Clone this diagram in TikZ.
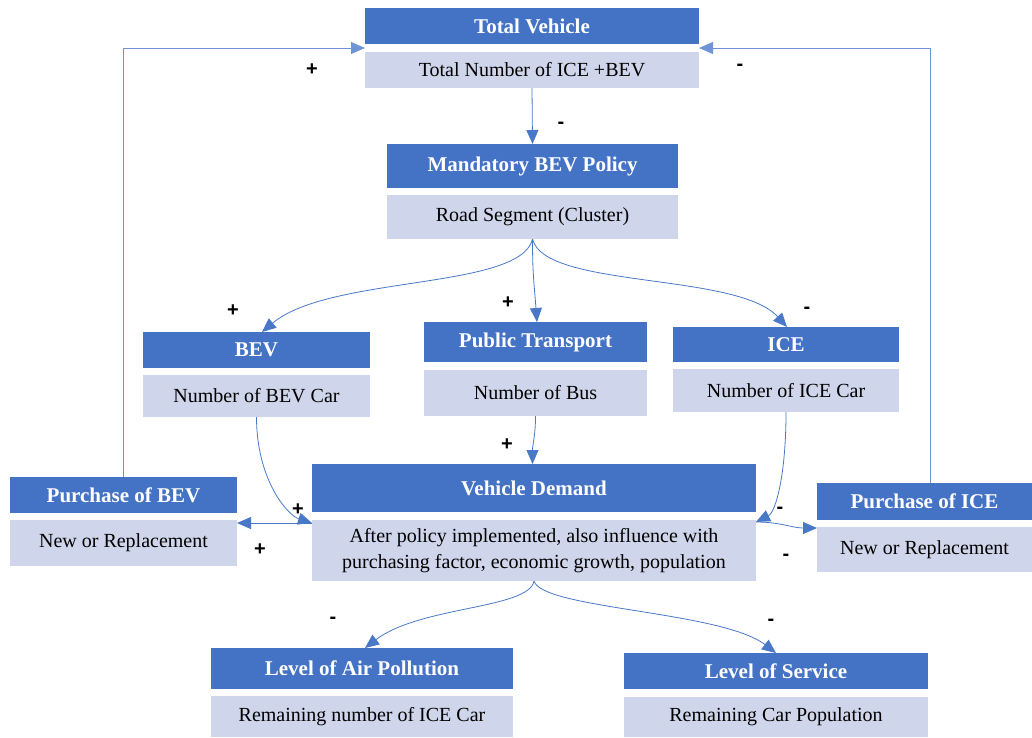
\documentclass[tikz,border=0pt]{standalone}
\usepackage{fontspec}
\setmainfont{Liberation Serif}
\newfontfamily\lblfont{Liberation Sans}
\usetikzlibrary{arrows.meta,calc}
\definecolor{hblue}{HTML}{4472C4}
\definecolor{bfill}{HTML}{CFD5EA}
\definecolor{lineblue}{HTML}{4A78C8}
\definecolor{loopblue}{HTML}{6F94D6}
\tikzset{
 hdr/.style={fill=hblue,text=white,font=\fontsize{21}{25}\selectfont\bfseries,inner sep=0pt,outer sep=0pt},
 bdy/.style={fill=bfill,text=black,font=\fontsize{20}{26}\selectfont,inner sep=0pt,outer sep=0pt,align=center},
 conn/.style={draw=lineblue,line width=0.8pt,-{Triangle[length=14pt,width=12pt]}},
 loopc/.style={conn,draw=loopblue},
 sgn/.style={font=\lblfont\fontsize{20}{20}\selectfont\bfseries,inner sep=0pt}
}
\begin{document}
\begin{tikzpicture}[x=1pt,y=-1pt]
\useasboundingbox (0,0) rectangle (1032,737);
% boxes
\node[hdr,minimum width=334pt,minimum height=36pt] (tvh) at (532,26) {Total Vehicle};
\node[bdy,minimum width=334pt,minimum height=36pt] (tvb) at (532,70) {Total Number of ICE +BEV};
\node[hdr,minimum width=291pt,minimum height=44pt] (mph) at (532.5,166) {Mandatory BEV Policy};
\node[bdy,minimum width=291pt,minimum height=44pt] (mpb) at (532.5,217) {Road Segment (Cluster)};
\node[hdr,minimum width=227pt,minimum height=36pt] (beh) at (256.5,350) {BEV};
\node[bdy,minimum width=227pt,minimum height=42pt] (beb) at (256.5,396) {Number of BEV Car};
\node[hdr,minimum width=223pt,minimum height=40pt] (pth) at (535.5,342) {Public Transport};
\node[bdy,minimum width=223pt,minimum height=46pt] (ptb) at (535.5,393) {Number of Bus};
\node[hdr,minimum width=226pt,minimum height=35pt] (ich) at (786,344.5) {ICE};
\node[bdy,minimum width=226pt,minimum height=43pt] (icb) at (786,390.5) {Number of ICE Car};
\node[hdr,minimum width=444pt,minimum height=48pt] (vdh) at (534,488) {Vehicle Demand};
\node[bdy,minimum width=444pt,minimum height=61pt] (vdb) at (534,550.5) {After policy implemented, also influence with\\purchasing factor, economic growth, population};
\node[hdr,minimum width=227pt,minimum height=36pt] (pbh) at (123.5,495) {Purchase of BEV};
\node[bdy,minimum width=227pt,minimum height=46pt] (pbb) at (123.5,543) {New or Replacement};
\node[hdr,minimum width=215pt,minimum height=37pt] (pih) at (924.5,501.5) {Purchase of ICE};
\node[bdy,minimum width=215pt,minimum height=45pt] (pib) at (924.5,549.5) {New or Replacement};
\node[hdr,minimum width=302pt,minimum height=41pt] (aph) at (362,668.5) {Level of Air Pollution};
\node[bdy,minimum width=302pt,minimum height=41pt] (apb) at (362,716.5) {Remaining number of ICE Car};
\node[hdr,minimum width=304pt,minimum height=36pt] (lsh) at (776,671) {Level of Service};
\node[bdy,minimum width=304pt,minimum height=40pt] (lsb) at (776,717) {Remaining Car Population};
% helper coordinates
\coordinate (tvL) at ($(tvh.south west)!0.5!(tvb.north west)$);
\coordinate (tvR) at ($(tvh.south east)!0.5!(tvb.north east)$);
\coordinate (vdL) at ([yshift=-3pt]vdb.north west);
\coordinate (vdR) at ([yshift=-2pt]vdb.north east);
% connectors
\draw[loopc] (pbh.north) |- (tvL);
\draw[loopc] ([xshift=5.5pt]pih.north) |- (tvR);
\draw[conn] (tvb.south) -- (mph.north);
\draw[conn] (mpb.south) .. controls +(-12,51) and +(68,-57) .. ([xshift=5.5pt]beh.north);
\draw[conn] (mpb.south) .. controls +(0,35) and +(-3,-40) .. ([xshift=1.5pt]pth.north);
\draw[conn] (mpb.south) .. controls +(12,50) and +(-50,-55) .. ([xshift=1pt]ich.north);
\draw[conn] (ptb.south) .. controls +(0,20) and +(0,-20) .. ([xshift=-1.5pt]vdh.north);
\draw[conn] (beb.south) .. controls +(0,62) and +(-25,-8) .. (vdL);
\draw[conn] (vdL) -- (pbb.east |- vdL);
\draw[conn] (icb.south) .. controls +(0,62) and +(20,-10) .. (vdR);
\draw[conn] (vdR) .. controls +(25,0) and +(-25,0) .. ([yshift=-1pt]pib.north west);
\draw[conn] (vdb.south) .. controls +(-5,28) and +(55,-42) .. ([xshift=3pt]aph.north);
\draw[conn] (vdb.south) .. controls +(8,28) and +(-55,-42) .. (lsh.north);
% signs
\node[sgn] (s1) at (312,70) {+};
\node[sgn] (s2) at (740,67) {-};
\node[sgn] (s3) at (561,125) {-};
\node[sgn] (s4) at (233,311) {+};
\node[sgn] (s5) at (508,303) {+};
\node[sgn] (s6) at (807,310) {-};
\node[sgn] (s7) at (507,445) {+};
\node[sgn] (s8) at (298,510) {+};
\node[sgn] (s9) at (260,550) {+};
\node[sgn] (s10) at (780,510) {-};
\node[sgn] (s11) at (786,557) {-};
\node[sgn] (s12) at (333,620) {-};
\node[sgn] (s13) at (771,622) {-};
\end{tikzpicture}
\end{document}
